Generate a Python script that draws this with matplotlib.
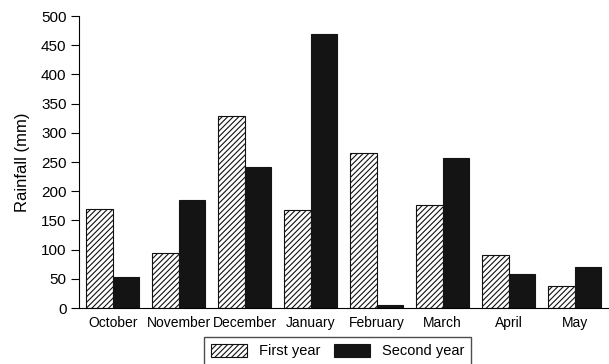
import matplotlib.pyplot as plt
import numpy as np

# data
months = ['October', 'November', 'December', 'January',
          'February', 'March', 'April', 'May']
first_year = [170, 95, 328, 167, 266, 176, 90, 37]
second_year = [53, 185, 241, 470, 5, 256, 59, 70]

plt.rcParams['font.family'] = ['Liberation Sans', 'DejaVu Sans']
plt.rcParams['hatch.linewidth'] = 0.8

fig = plt.figure(figsize=(6.09, 3.64), dpi=100)
ax = fig.add_axes([79 / 609, 1 - 308 / 364, 530 / 609, 292 / 364])

x = np.arange(len(months))
w = 0.4
ax.bar(x - w / 2, first_year, w, color='white', edgecolor='#111111',
       hatch='//////', linewidth=0.8, label='First year')
ax.bar(x + w / 2, second_year, w, color='#141414', edgecolor='#141414',
       linewidth=0.8, label='Second year')

ax.set_xlim(-0.51, 7.52)
ax.set_ylim(0, 500)
ax.set_yticks(range(0, 501, 50))
ax.set_xticks(x)
ax.set_xticklabels(months)
ax.tick_params(axis='x', length=0, pad=6, labelsize=10)
ax.tick_params(axis='y', length=6, width=0.8, labelsize=11, pad=3)
ax.set_ylabel('Rainfall (mm)', fontsize=12, labelpad=8)

for s in ['top', 'right']:
    ax.spines[s].set_visible(False)
for s in ['left', 'bottom']:
    ax.spines[s].set_linewidth(0.8)

leg = fig.legend(loc='upper center',
                 bbox_to_anchor=(337.5 / 609, 1 - 330 / 364),
                 ncol=2, fontsize=10.5, frameon=True, fancybox=False,
                 edgecolor='#222222', handlelength=2.5, handleheight=1.0,
                 columnspacing=0.9, borderpad=0.45)
leg.get_frame().set_linewidth(1.0)

fig.savefig('out.png', dpi=100)
